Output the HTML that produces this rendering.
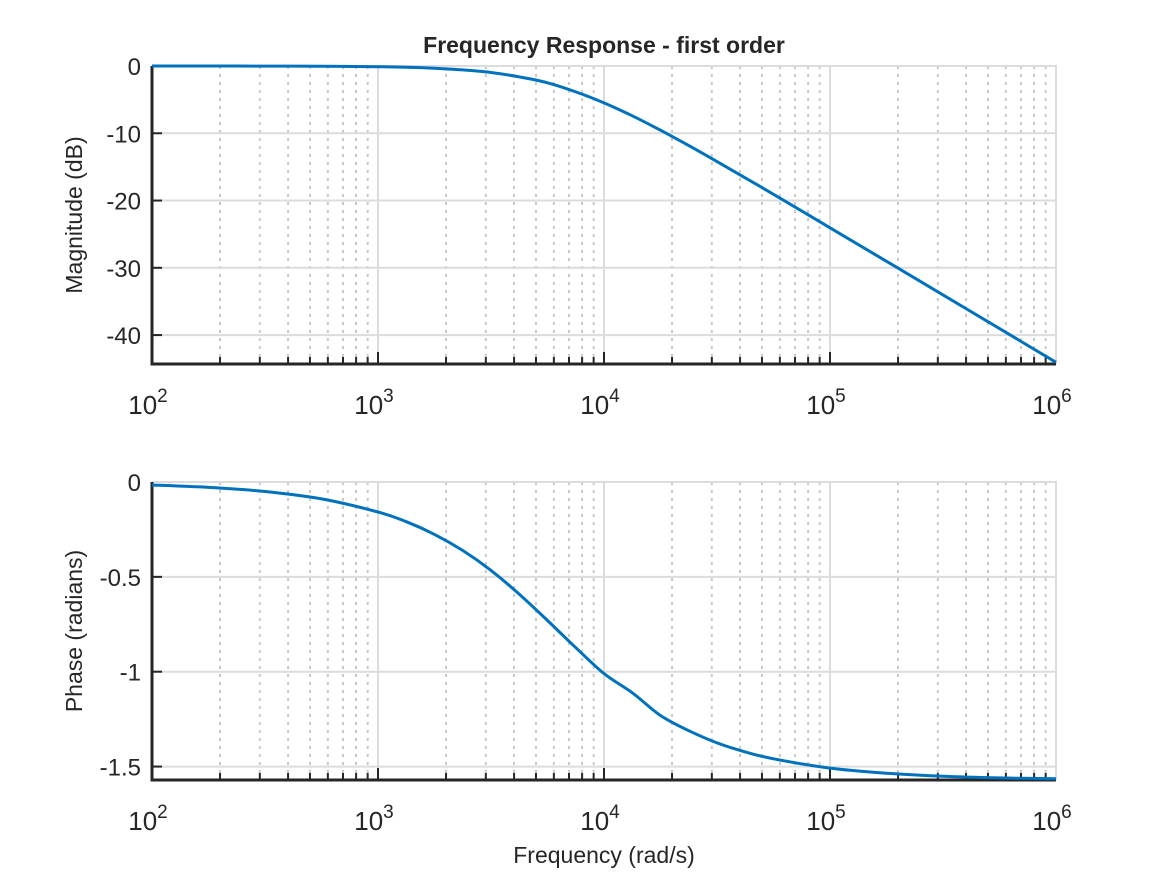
<!DOCTYPE html>
<html><head><meta charset="utf-8"><style>
body{margin:0;background:#fff;}
svg text{font-family:"Liberation Sans",Arial,sans-serif;fill:#262626;}
</style></head><body>
<svg id="chart" width="1167" height="875" viewBox="0 0 1167 875" xmlns="http://www.w3.org/2000/svg"></svg>
<script>
const logFreq = [2,2.25,2.5,2.75,3,3.125,3.25,3.375,3.5,3.625,3.75,3.875,4,4.125,4.25,4.375,4.5,4.625,4.75,5,5.25,5.5,5.75,6];
const magDb = [-0.001,-0.0035,-0.011,-0.035,-0.109,-0.192,-0.334,-0.578,-0.967,-1.615,-2.50,-3.846,-5.48,-7.407,-9.55,-11.83,-14.21,-16.63,-19.08,-24.05,-29.04,-34.03,-39.04,-44.04];
const phaseRad = [-0.0159,-0.0283,-0.0503,-0.0893,-0.158,-0.2092,-0.276,-0.3612,-0.466,-0.5913,-0.730,-0.8733,-1.010,-1.1112,-1.231,-1.3108,-1.375,-1.4228,-1.459,-1.508,-1.535,-1.551,-1.5596,-1.5645];
const magTicks = [0,-10,-20,-30,-40];
const magTickLabels = ["0","-10","-20","-30","-40"];
const phaseTicks = [0,-0.5,-1,-1.5];
const phaseTickLabels = ["0","-0.5","-1","-1.5"];
const decades = [2,3,4,5,6];

const svg = document.getElementById('chart');
const NS = 'http://www.w3.org/2000/svg';
function mk(tag, attrs, parent){const e=document.createElementNS(NS,tag);for(const k in attrs)e.setAttribute(k,attrs[k]);(parent||svg).appendChild(e);return e;}
const X0=152, X1=1056;
const xs = lf => X0 + (lf-2)/4*(X1-X0);

function smoothPath(P){
  let d = 'M'+P[0][0].toFixed(1)+','+P[0][1].toFixed(1);
  for(let i=0;i<P.length-1;i++){
    const p0=P[Math.max(0,i-1)], p1=P[i], p2=P[i+1], p3=P[Math.min(P.length-1,i+2)];
    const c1=[p1[0]+(p2[0]-p0[0])/6, p1[1]+(p2[1]-p0[1])/6];
    const c2=[p2[0]-(p3[0]-p1[0])/6, p2[1]-(p3[1]-p1[1])/6];
    d+=' C'+c1[0].toFixed(1)+','+c1[1].toFixed(1)+' '+c2[0].toFixed(1)+','+c2[1].toFixed(1)+' '+p2[0].toFixed(1)+','+p2[1].toFixed(1);
  }
  return d;
}

function panel(name, top, bottom, ymin, ymax, ticks, labels, data, ylabel){
  const ys = v => top + (ymax - v)/(ymax-ymin)*(bottom-top);
  const g = mk('g',{});
  
  
  for(let d=2; d<6; d++){
    for(let m=2; m<=9; m++){
      const x = xs(d+Math.log10(m));
      const l = mk('line',{x1:x,x2:x,y1:top,y2:bottom,stroke:'#c8c8c8','stroke-width':2,'stroke-dasharray':'3,5'},g);
       
      const t = mk('line',{x1:x,x2:x,y1:bottom,y2:bottom-7,stroke:'#262626','stroke-width':2},g);
       
    }
  }
  decades.forEach(d=>{
    const x = xs(d);
    const l = mk('line',{x1:x,x2:x,y1:top,y2:bottom,stroke:'#dcdcdc','stroke-width':2},g);
     
    const t = mk('line',{x1:x,x2:x,y1:bottom,y2:bottom-12,stroke:'#262626','stroke-width':2},g);
     
    const tx = mk('text',{x:x-4,y:bottom+50,'font-size':26,'text-anchor':'middle'},g);
     
    tx.innerHTML = '10<tspan dy="-12" font-size="19">'+d+'</tspan>';
  });
  ticks.forEach((v,i)=>{
    const y = ys(v);
    const l = mk('line',{x1:X0,x2:X1,y1:y,y2:y,stroke:'#dcdcdc','stroke-width':2},g);
     
    const t = mk('line',{x1:X0,x2:X0+10,y1:y,y2:y,stroke:'#262626','stroke-width':2},g);
     
    const tx = mk('text',{x:X0-11,y:y+9,'font-size':24,'text-anchor':'end'},g);
     
    tx.textContent = labels[i];
  });
  const bx = mk('path',{d:`M${X0},${top}H${X1}V${bottom}`,fill:'none',stroke:'#dcdcdc','stroke-width':2},g);
   
  const ax = mk('path',{d:`M${X0},${top}V${bottom}H${X1}`,fill:'none',stroke:'#262626','stroke-width':3},g);
   
  const P = logFreq.map((lf,i)=>[xs(lf), ys(data[i])]);
  const pl = mk('path',{d:smoothPath(P),fill:'none',stroke:'#0072bd','stroke-width':3,'stroke-linejoin':'round'},g);
   
  const yl = mk('text',{x:0,y:0,'font-size':23,'text-anchor':'middle',transform:`translate(82,${(top+bottom)/2}) rotate(-90)`},g);
   
  yl.textContent = ylabel;
}
panel('magnitude-panel',66,364,-44.3,0,magTicks,magTickLabels,magDb,'Magnitude (dB)');
panel('phase-panel',482,780,-Math.PI/2,0,phaseTicks,phaseTickLabels,phaseRad,'Phase (radians)');
const title = mk('text',{x:604,y:53,'font-size':23,'font-weight':'bold','text-anchor':'middle'});
 
title.textContent='Frequency Response - first order';
const xl = mk('text',{x:604,y:863,'font-size':23,'text-anchor':'middle'});
 
xl.textContent='Frequency (rad/s)';
</script>
</body></html>
